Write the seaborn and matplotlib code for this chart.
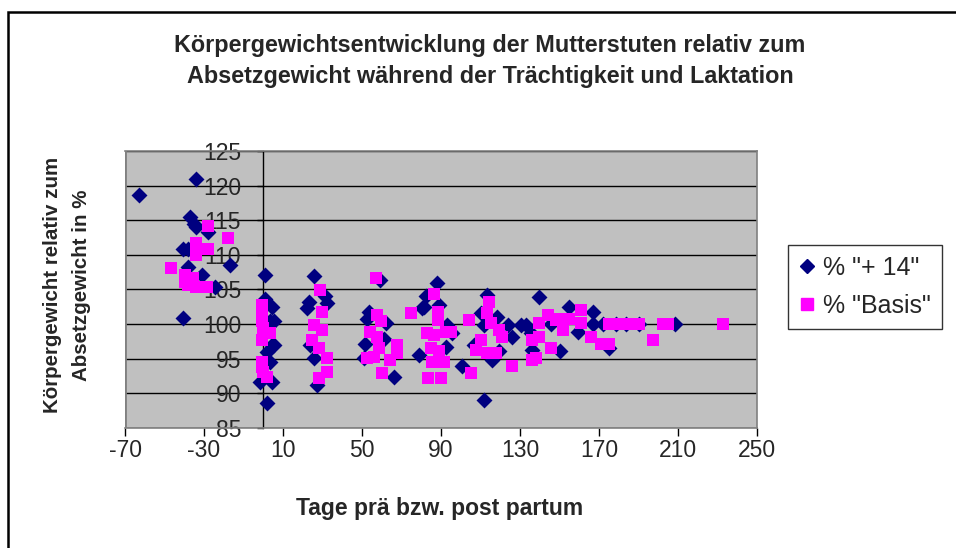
import matplotlib
matplotlib.use("Agg")
import matplotlib.pyplot as plt
from matplotlib.patches import Rectangle
from matplotlib.lines import Line2D
import seaborn as sns
import pandas as pd

# ---- data: series "+ 14" (navy diamonds) ----
plus14_x = [-63, -34, -37, -35, -34, -28, -40.5, -38, -38, -31, -24.4, -16.8, -40.5,
            1, 1, 4.3, 5.2, 3.5, 5.2, 4.3, 1.8, 3.5, -1.6, 4.3, 1.8,
            25.5, 23, 22.1, 31.4, 32.3, 23.8, 25.5, 27.2,
            59, 53.4, 52.6, 61.9, 61, 51.7, 50.9, 66.1, 78.8, 80.5,
            88.1, 82.2, 81.3, 89, 93.2, 95.7, 92.4, 100.8, 111.8, 113.5, 110.1, 111.8,
            118.6, 123.7, 126.2, 106.7, 119.4, 116, 130.5, 133, 139.8, 135.5, 136.3,
            150.5, 155, 166.9, 159.2, 175.3, 145.7, 166.9, 171.9, 178.7, 183.8, 190.5, 208.3]
plus14_y = [118.6, 120.9, 115.5, 114.5, 114.0, 113.3, 110.9, 110.9, 108.3, 107.1, 105.4, 108.5, 100.9,
            107.1, 103.6, 102.5, 100.4, 100.4, 97.0, 97.0, 96.0, 94.6, 91.7, 91.7, 88.6,
            106.9, 103.2, 102.3, 104.0, 103.0, 97.0, 95.1, 91.2,
            106.4, 101.8, 100.8, 100.1, 97.9, 97.2, 95.1, 92.4, 95.5, 102.3,
            106.0, 104.0, 102.5, 102.8, 99.9, 98.7, 96.7, 93.9, 89.1, 104.2, 101.6, 99.9,
            101.1, 99.9, 98.2, 97.0, 96.1, 94.8, 99.9, 99.9, 103.9, 98.7, 96.3,
            96.1, 102.5, 101.8, 98.9, 96.5, 100.0, 100.0, 100.0, 100.0, 100.0, 100.0, 100.0]

# ---- data: series "Basis" (magenta squares) ----
basis_x = [-46.5, -27.8, -17.7, -33.8, -27.8, -33.8, -39.7, -35.5, -39.7, -38, -33.8, -28.7,
           -0.8, -0.8, -0.8, 0, 3.5, -0.8, -0.8, 0, -0.8, 1.8,
           28.9, 29.7, 25.5, 29.7, 24.6, 28, 32.3, 32.3, 28,
           57.3, 57.7, 59.4, 54.3, 57.7, 58.5, 52.6, 56, 67.8, 67.8, 64.4, 60.2, 74.6,
           86.4, 88.7, 88.7, 83, 86.4, 92.4, 94.9, 84.7, 89, 85.6, 91.5, 83.5, 89.8,
           104.2, 105, 114.4, 113.5, 115.2, 119.4, 121.1, 110.1, 107.6, 113.5, 117.8, 126.2,
           139.8, 144, 148.2, 136.3, 139.8, 145.7, 136.3, 138,
           149, 155, 160.9, 160.9, 151.6, 166, 171.1, 175,
           175.3, 177.8, 180.4, 182.9, 185.5, 188, 190.5, 197.3, 202.4, 205, 232.9]
basis_y = [108.1, 114.1, 112.4, 111.7, 110.9, 110.0, 107.1, 106.6, 106.1, 105.7, 105.4, 105.4,
           102.8, 101.3, 100.4, 99.4, 98.7, 97.7, 94.6, 93.1, 93.8, 92.4,
           104.9, 101.8, 99.9, 99.2, 97.7, 96.5, 95.1, 93.1, 92.2,
           106.6, 101.3, 100.4, 98.9, 98.2, 96.5, 95.1, 95.3, 97.0, 95.8, 94.8, 92.9, 101.6,
           104.3, 101.8, 100.6, 98.7, 98.4, 98.9, 98.9, 96.5, 96.1, 94.6, 94.6, 92.2, 92.2,
           100.6, 93.0, 103.2, 101.6, 100.1, 99.1, 98.2, 97.7, 96.3, 95.8, 95.8, 93.9,
           100.1, 101.3, 100.6, 97.7, 98.2, 96.5, 94.8, 95.1,
           100.8, 100.8, 102.0, 100.1, 99.1, 98.2, 97.2, 97.1,
           100.0, 100.0, 100.0, 100.0, 100.0, 100.0, 100.0, 97.7, 100.0, 100.0, 100.0]

x_ticks = [-70, -30, 10, 50, 90, 130, 170, 210, 250]
y_ticks = [85, 90, 95, 100, 105, 110, 115, 120, 125]
series_labels = ['% "+ 14"', '% "Basis"']

title = "Körpergewichtsentwicklung der Mutterstuten relativ zum\nAbsetzgewicht während der Trächtigkeit und Laktation"
xlabel = "Tage prä bzw. post partum"
ylabel = "Körpergewicht relativ zum\nAbsetzgewicht in %"

sns.set_style("white")
plt.rcParams['font.family'] = ['Liberation Sans', 'DejaVu Sans']
plt.rcParams['axes.unicode_minus'] = False

df1 = pd.DataFrame({"x": plus14_x, "y": plus14_y})
df2 = pd.DataFrame({"x": basis_x, "y": basis_y})

W, H = 956, 548
fig = plt.figure(figsize=(W / 100, H / 100), dpi=100)
fig.patch.set_facecolor("white")
L, R, T, B = 125, 757, 151, 428
ax = fig.add_axes([L / W, 1 - B / H, (R - L) / W, (B - T) / H])
ax.set_facecolor("#C0C0C0")

navy = "#000080"
magenta = "#FF00FF"
sns.scatterplot(data=df1, x="x", y="y", ax=ax, marker="D", s=66, color=navy,
                edgecolor=navy, linewidth=0, zorder=3, legend=False)
sns.scatterplot(data=df2, x="x", y="y", ax=ax, marker="s", s=72, color=magenta,
                edgecolor=magenta, linewidth=0, zorder=4, legend=False)

ax.set_xlim(-70, 250)
ax.set_ylim(85, 125)
ax.set_xticks(x_ticks)
ax.set_yticks(y_ticks)
ax.yaxis.grid(True, color="black", linewidth=1.0, zorder=1)
ax.xaxis.grid(False)
ax.set_axisbelow(True)

for s in ["top", "right", "bottom"]:
    ax.spines[s].set_color("#808080")
    ax.spines[s].set_linewidth(1.2)
ax.spines["left"].set_position(("data", 0))
ax.spines["left"].set_color("black")
ax.spines["left"].set_linewidth(1.0)
ax.spines["left"].set_zorder(2)
ax.axvline(-70, color="#808080", linewidth=2.0, zorder=2)

ax.tick_params(axis="x", direction="out", length=6, width=1, color="black",
               labelsize=16.5, pad=2, bottom=True)
ax.tick_params(axis="y", direction="out", length=4, width=1, color="black",
               labelsize=16.5, pad=12, left=True)
for lab in ax.get_yticklabels():
    lab.set_zorder(5)
ax.set_xlabel("")
ax.set_ylabel("")

fig.text(490 / W, 1 - 61 / H, title, ha="center", va="center", fontsize=16.8,
         fontweight="bold", linespacing=1.45)
fig.text(440 / W, 1 - 509 / H, xlabel, ha="center", va="center", fontsize=16.5,
         fontweight="bold")
fig.text(67 / W, 1 - 285 / H, ylabel, ha="center", va="center", fontsize=14.8,
         fontweight="bold", rotation=90, linespacing=1.65)

handles = [Line2D([], [], marker="D", color=navy, linestyle="none", markersize=7),
           Line2D([], [], marker="s", color=magenta, linestyle="none", markersize=8)]
leg = fig.legend(handles, series_labels, loc="center", bbox_to_anchor=(865 / W, 1 - 287 / H),
                 frameon=True, fancybox=False, fontsize=18, handlelength=0.6,
                 handletextpad=0.35, borderpad=0.45, labelspacing=0.55, edgecolor="black",
                 borderaxespad=0)
leg.get_frame().set_linewidth(1.0)

fig.patches.append(Rectangle((8 / W, -0.1), 1.2, 1 - 12 / H + 0.1, transform=fig.transFigure,
                             fill=False, edgecolor="black", linewidth=1.8))

fig.savefig("out.png", dpi=100)
